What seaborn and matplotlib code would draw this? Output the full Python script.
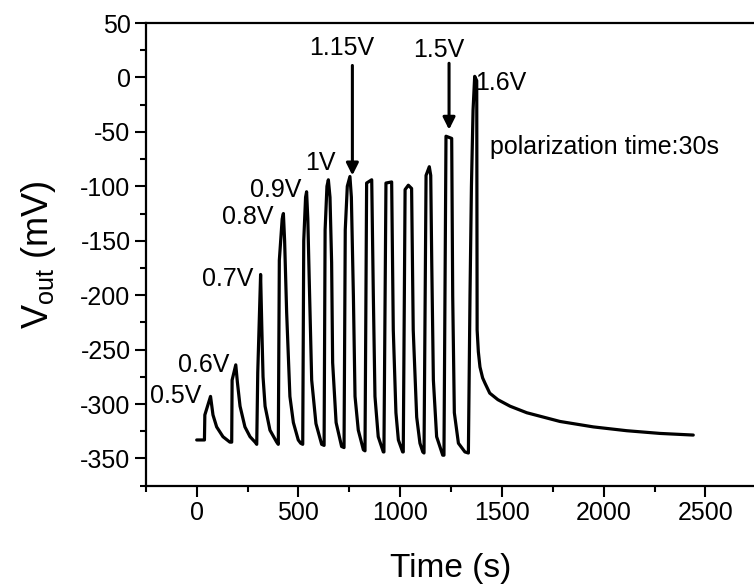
import pandas as pd
import seaborn as sns
import matplotlib.pyplot as plt
from matplotlib.ticker import MultipleLocator

# values, one list per polarization pulse
t_05 = [0, 38, 40, 68, 80, 98, 129, 163]
v_05 = [-333, -333, -310, -293, -310, -321, -330, -335]
t_06 = [172, 174, 192, 200, 213, 237, 262, 287]
v_06 = [-335, -278, -264, -280, -302, -321, -330, -335]
t_07 = [295, 300, 314, 320, 326, 336, 360, 393]
v_07 = [-337, -271, -181, -230, -275, -302, -324, -335]
t_08 = [401, 406, 420, 426, 432, 442, 458, 475, 499, 511]
v_08 = [-337, -168, -130, -125, -150, -216, -293, -317, -333, -336]
t_09 = [521, 526, 535, 540, 546, 553, 565, 586, 614]
v_09 = [-337, -150, -110, -105, -130, -186, -278, -318, -337]
t_10 = [626, 631, 640, 647, 655, 663, 668, 685, 712]
v_10 = [-338, -140, -100, -94, -110, -170, -262, -317, -339]
t_115 = [724, 730, 740, 753, 760, 770, 778, 794, 819]
v_115 = [-340, -140, -100, -91, -110, -201, -293, -324, -342]
t_p8 = [827, 835, 860, 868, 876, 892, 917]
v_p8 = [-343, -97, -94, -201, -293, -330, -344]
t_p9 = [920, 930, 958, 966, 979, 991, 1012]
v_p9 = [-344, -97, -96, -232, -308, -333, -344]
t_p10 = [1015, 1024, 1040, 1056, 1064, 1081, 1097, 1111]
v_p10 = [-344, -103, -99, -102, -232, -312, -336, -344]
t_p11 = [1117, 1127, 1143, 1150, 1155, 1163, 1179, 1209]
v_p11 = [-345, -90, -82, -90, -170, -278, -330, -347]
t_15 = [1215, 1225, 1253, 1258, 1266, 1286, 1318, 1335]
v_15 = [-347, -54, -56, -201, -308, -336, -344, -345]
t_16 = [1343, 1350, 1358, 1366, 1376, 1378, 1384, 1392, 1405, 1417,
        1440, 1480, 1540, 1622, 1785, 1949, 2113, 2277, 2440]
v_16 = [-200, -100, -30, 1, -3, -232, -252, -266, -276, -281,
        -290, -296, -302, -308, -316, -321, -324.5, -327, -328.5]

times = [t_05, t_06, t_07, t_08, t_09, t_10, t_115, t_p8, t_p9, t_p10, t_p11, t_15, t_16]
volts = [v_05, v_06, v_07, v_08, v_09, v_10, v_115, v_p8, v_p9, v_p10, v_p11, v_15, v_16]

df = pd.DataFrame({
    "time": [t for ts in times for t in ts],
    "vout": [v for vs in volts for v in vs],
})

sns.set_style("ticks")
plt.rcParams['font.family'] = ['Liberation Sans', 'DejaVu Sans']
plt.rcParams['axes.unicode_minus'] = False
plt.rcParams['mathtext.fontset'] = 'custom'
plt.rcParams['mathtext.rm'] = 'Liberation Sans'
for key in ['text.color', 'axes.labelcolor', 'xtick.color', 'ytick.color', 'axes.edgecolor']:
    plt.rcParams[key] = 'black'

fig = plt.figure(figsize=(7.54, 5.87), dpi=100)
ax = fig.add_axes([0.1934, 0.1726, 0.8097, 0.7882])

sns.lineplot(data=df, x="time", y="vout", sort=False, estimator=None,
             color="black", linewidth=2.3, ax=ax)

ax.set_xlim(-250, 2750)
ax.set_ylim(-375, 50)
ax.xaxis.set_major_locator(MultipleLocator(500))
ax.xaxis.set_minor_locator(MultipleLocator(250))
ax.yaxis.set_major_locator(MultipleLocator(50))
ax.yaxis.set_minor_locator(MultipleLocator(25))
ax.tick_params(which="major", length=8, width=1.5, labelsize=18, pad=3)
ax.tick_params(which="minor", length=4, width=1.5)
for sp in ax.spines.values():
    sp.set_linewidth(1.6)

ax.set_xlabel("Time (s)", fontsize=24, labelpad=20)
ax.set_ylabel(r"V$_{\rm out}$ (mV)", fontsize=26, labelpad=16)

# labels of the pulses
fs = 18
ax.text(-230, -293, "0.5V", fontsize=fs, va="center", ha="left")
ax.text(-92, -264, "0.6V", fontsize=fs, va="center", ha="left")
ax.text(27, -185, "0.7V", fontsize=fs, va="center", ha="left")
ax.text(125, -128, "0.8V", fontsize=fs, va="center", ha="left")
ax.text(262, -103, "0.9V", fontsize=fs, va="center", ha="left")
ax.text(535, -79, "1V", fontsize=fs, va="center", ha="left")
ax.text(1368, -5, "1.6V", fontsize=fs, va="center", ha="left")
ax.text(1441, -64, "polarization time:30s", fontsize=fs, va="center", ha="left")

arrow = dict(arrowstyle="-|>", color="black", lw=2.2,
             mutation_scale=18, shrinkA=0, shrinkB=0)
ax.text(712, 27, "1.15V", fontsize=fs, ha="center", va="center")
ax.annotate("", xy=(765, -90), xytext=(765, 11), arrowprops=arrow)
ax.text(1187, 25, "1.5V", fontsize=fs, ha="center", va="center")
ax.annotate("", xy=(1240, -48), xytext=(1240, 13), arrowprops=arrow)

fig.savefig("out.png", dpi=100)
